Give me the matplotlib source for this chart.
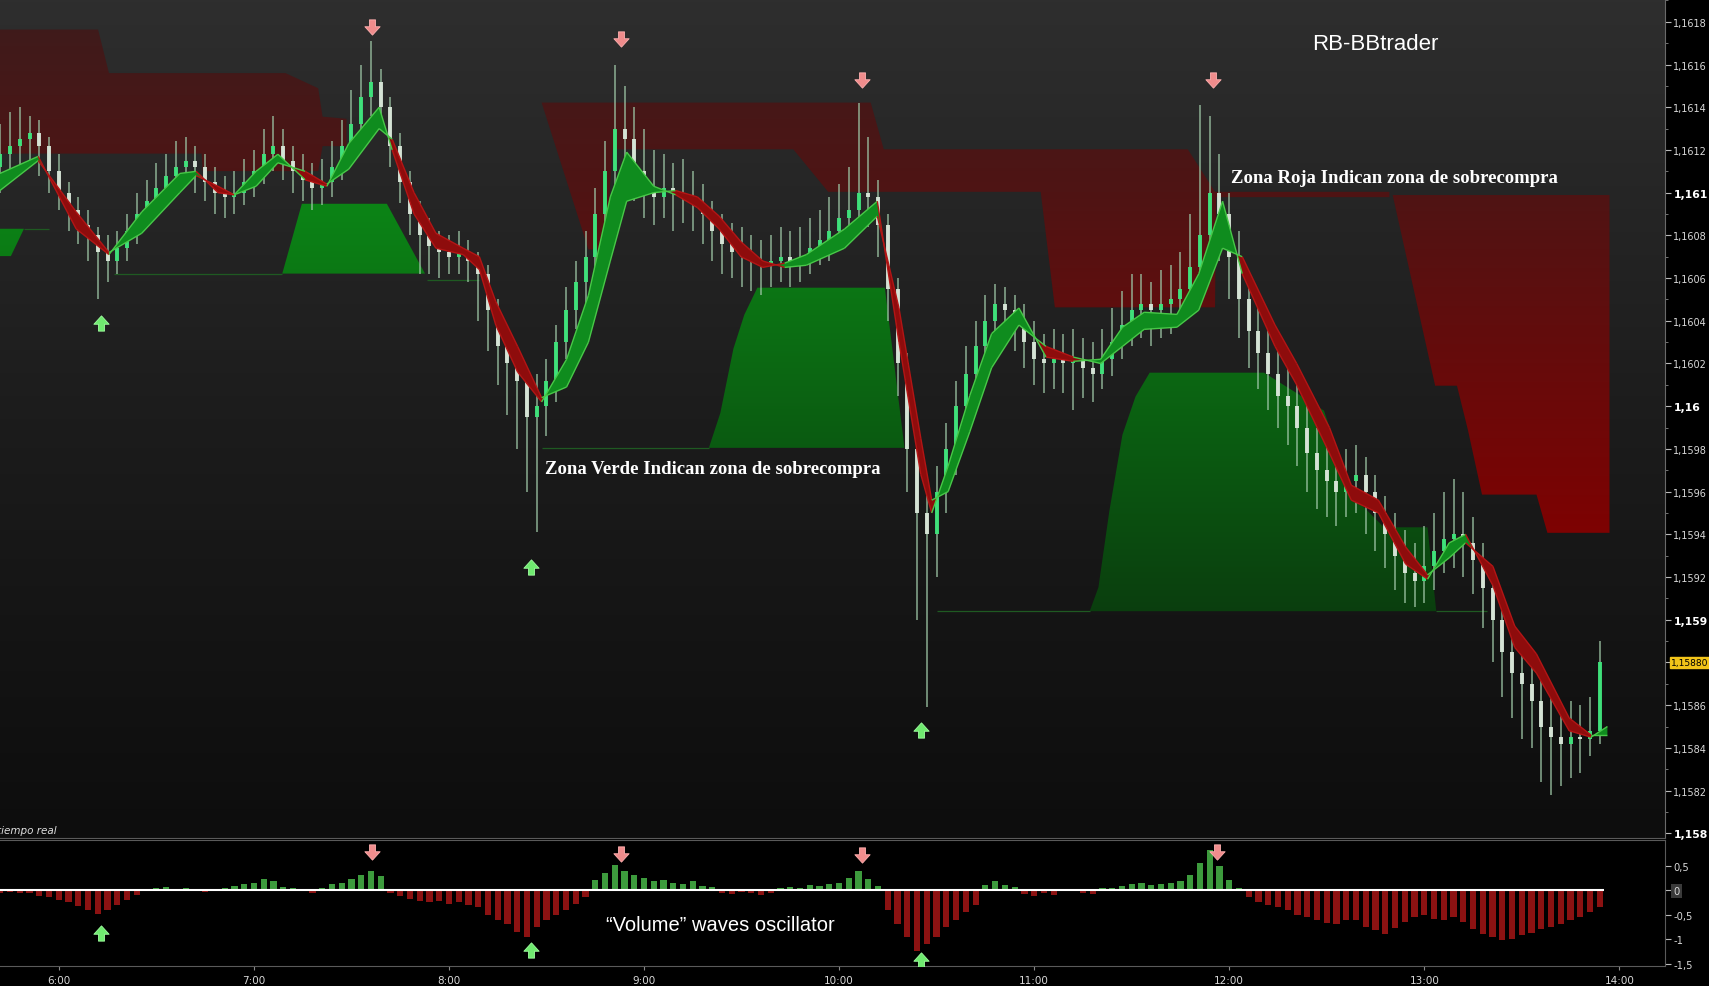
import numpy as np
import matplotlib
matplotlib.use("Agg")
import matplotlib.pyplot as plt
from matplotlib.patches import Polygon
from matplotlib.path import Path
from matplotlib.colors import LinearSegmentedColormap
from matplotlib.collections import LineCollection
import matplotlib.transforms as mtransforms

plt.rcParams['font.family'] = ['DejaVu Sans']

# ---------------- data ----------------
BASE = 1.1580          # prices are stored as offsets in units of 0.00001
UNIT = 1e-5
bar_start = 5.70       # first bar time (hours)
bar_step = 0.05        # 3-minute bars

bar_open = [312,318,322,325,328,322,310,300,292,285, 280,272,268,274,282,290,296,302,308,312,
            315,312,305,300,298,300,305,310,318,322, 315,310,306,302,305,312,322,332,345,352,
            340,322,305,290,280,275,272,270,272,268, 262,245,228,220,212,195,200,212,230,245,
            258,270,290,310,330,325,310,300,298,302, 300,298,295,290,282,276,272,270,268,266,
            268,270,268,270,274,278,282,288,292,300, 298,285,255,220,180,150,140,160,180,200,
            215,228,240,248,245,240,230,222,220,222, 220,222,218,215,222,230,238,245,248,245,
            248,250,255,265,280,300,290,270,250,235, 225,215,205,200,190,178,170,165,160,165,
            168,160,150,140,130,122,118,125,132,138, 140,136,128,115,100,85,75,70,62,50,
            45,42,45,44,48]
bar_close = [318,322,325,328,322,310,300,292,285,280, 272,268,274,282,290,296,302,308,312,315,
             312,305,300,298,300,305,310,318,322,315, 310,306,302,305,312,322,332,345,352,340,
             322,305,290,280,275,272,270,272,268,262, 245,228,220,212,195,200,212,230,245,258,
             270,290,310,330,325,310,300,298,302,300, 298,295,290,282,276,272,270,268,266,268,
             270,268,270,274,278,282,288,292,300,298, 285,255,220,180,150,140,160,180,200,215,
             228,240,248,245,240,230,222,220,222,220, 222,218,215,222,230,238,245,248,245,248,
             250,255,265,280,300,290,270,250,235,225, 215,205,200,190,178,170,165,160,165,168,
             160,150,140,130,122,118,125,132,138,140, 136,128,115,100,85,75,70,62,50,45,
             42,45,44,48,80]
bar_high = [332,338,340,336,334,326,318,305,298,292, 284,280,282,290,300,306,314,318,324,326,
            322,318,312,308,310,316,320,330,336,330, 322,318,314,316,324,334,348,360,371,358,
            345,328,310,296,288,282,280,282,278,272, 266,250,235,226,218,215,222,238,256,268,
            282,302,324,360,350,340,330,320,318,314, 316,310,304,296,290,286,284,280,278,280,
            284,282,284,288,292,298,304,312,342,326, 306,290,260,225,185,165,172,192,212,228,
            240,252,257,256,252,248,240,234,236,234, 236,232,230,236,246,254,262,262,258,264,
            266,272,290,341,336,318,300,282,262,246, 238,228,218,212,200,190,184,178,180,182,
            176,168,158,150,142,136,144,150,160,166, 160,148,136,120,106,96,90,86,72,64,
            60,62,60,64,90]
bar_low = [300,306,310,312,308,300,292,282,276,268, 250,258,262,268,276,284,290,296,300,304,
           300,296,290,288,290,294,298,304,310,306, 300,296,292,294,298,306,316,326,336,330,
           312,295,280,262,262,260,262,262,258,240, 226,210,196,180,160,141,186,202,222,236,
           248,262,284,300,305,296,288,285,288,282, 286,282,276,268,262,260,256,254,252,256,
           258,256,258,262,266,268,274,278,284,284, 270,240,205,160,100,59,120,150,168,190,
           205,218,228,230,226,218,210,206,208,206, 198,204,202,208,214,222,228,232,228,232,
           234,238,245,258,272,268,250,232,218,208, 198,190,182,172,160,152,148,144,148,150,
           140,132,124,114,108,106,108,114,122,124, 120,112,96,80,64,54,44,40,24,18,
           22,26,28,36,42]

osc_vals = [-0.05,-0.04,-0.06,-0.05,-0.12,-0.15,-0.20,-0.25,-0.32,-0.40,
            -0.48,-0.40,-0.30,-0.20,-0.10,-0.02,0.04,0.06,0.03,0.05,
            -0.02,-0.03,0.02,0.05,0.08,0.12,0.15,0.22,0.18,0.06,
            0.04,0.02,-0.05,0.05,0.12,0.15,0.22,0.30,0.40,0.28,
            -0.05,-0.12,-0.18,-0.22,-0.25,-0.22,-0.28,-0.25,-0.30,-0.35,
            -0.50,-0.62,-0.70,-0.85,-0.95,-0.75,-0.60,-0.50,-0.40,-0.28,
            -0.15,0.20,0.35,0.52,0.40,0.30,0.25,0.18,0.20,0.15,
            0.12,0.18,0.08,0.06,-0.05,-0.08,-0.04,-0.06,-0.10,-0.06,
            0.04,0.06,0.05,0.10,0.08,0.12,0.15,0.25,0.40,0.22,
            0.08,-0.40,-0.70,-0.95,-1.25,-1.10,-0.95,-0.75,-0.60,-0.45,
            -0.30,0.10,0.18,0.10,0.06,-0.08,-0.12,-0.06,-0.10,0.02,
            0.03,-0.05,-0.08,0.04,0.05,0.08,0.12,0.15,0.10,0.12,
            0.15,0.18,0.30,0.55,0.82,0.50,0.20,0.05,-0.15,-0.25,
            -0.30,-0.35,-0.40,-0.50,-0.55,-0.62,-0.68,-0.70,-0.62,-0.60,
            -0.75,-0.82,-0.90,-0.78,-0.65,-0.55,-0.50,-0.58,-0.62,-0.55,
            -0.65,-0.80,-0.90,-0.95,-1.02,-1.00,-0.92,-0.88,-0.80,-0.75,
            -0.70,-0.62,-0.55,-0.45,-0.35]

rib_t = [5.698,5.894,6.089,6.257,6.425,6.620,6.704,6.816,6.899,7.011,7.123,7.263,7.374,7.486,
         7.642,7.709,7.821,7.933,8.073,8.156,8.240,8.352,8.475,8.603,8.715,8.827,8.911,9.050,
         9.162,9.274,9.385,9.497,9.609,9.721,9.832,10.028,10.196,10.307,10.419,10.475,10.559,
         10.670,10.782,10.922,11.061,11.201,11.341,11.453,11.564,11.732,11.844,11.966,12.067,
         12.235,12.346,12.514,12.626,12.765,12.905,13.017,13.128,13.212,13.352,13.464,13.575,
         13.743,13.855,13.939]
rib_fast = [309,317,283,271,291,309,310,300,299,310,318,306,303,323,340,320,290,274,271,264,
            238,216,202,222,252,298,319,303,299,293,283,270,265,267,271,283,296,230,168,150,
            172,205,234,246,223,221,222,237,244,243,262,296,262,228,210,178,156,150,126,119,
            136,140,116,87,75,48,45,50]
rib_slow = [301,315,291,272,281,300,308,303,299,303,314,310,304,311,330,325,300,281,274,270,
            249,228,204,209,230,268,296,300,301,298,289,277,268,265,266,274,289,246,185,156,
            160,188,218,238,228,223,220,228,236,237,245,274,270,238,220,190,163,156,134,121,
            129,136,125,97,84,54,46,46]

# overbought (red) zones: polygon outlines (hours, price offset)
redA_t = [5.6983,6.2011,6.2570,7.1620,7.3296,7.3520,7.4749,7.4749,7.3520,7.3296,6.7374,6.7318,5.6983]
redA_v = [376.4,376.4,356.0,356.0,348.9,335.6,334.6,321.8,321.8,310.1,310.1,318.3,318.3]
redB_t = [8.4749,10.1620,10.2291,11.7877,11.9274,12.8212,12.8212,11.9330,11.9274,11.1061,
          11.0335,9.9441,9.7654,8.8380,8.8045,8.7151]
redB_v = [342.2,342.2,320.3,320.3,300.4,300.4,297.9,297.9,246.3,246.3,300.4,300.4,320.3,
          320.3,273.4,273.4]
redC_t = [12.8380,13.9497,13.9497,13.6313,13.5754,13.2961,13.2235,13.1676,13.0559]
redC_v = [298.9,298.9,140.7,140.7,158.6,158.6,189.0,209.6,209.6]

# oversold (green) zones
grnA_t = [5.6983,5.8212,5.7542,5.6983]
grnA_v = [283.1,283.1,270.3,270.3]
grnB_t = [7.1453,7.2458,7.6816,7.8771]
grnB_v = [262.1,294.8,294.8,262.1]
grnC_t = [9.3324,9.3911,9.4581,9.5140,9.5810,10.2346,10.3352]
grnC_v = [180.5,196.8,226.9,242.8,255.5,255.5,180.5]
grnD_t = [11.2849,11.3296,11.3855,11.4525,11.5196,11.5922,12.1788,12.3743,12.4860,12.6257,
          12.7933,13.0168,13.0615]
grnD_v = [104.0,115.2,150.9,186.6,204.5,215.7,215.7,204.5,197.9,158.6,143.3,143.3,104.0]

base_t0 = [5.8212,6.2849,7.8883,8.4749,10.5028,13.0615]
base_t1 = [5.9497,7.1453,8.1564,9.3324,11.2849,13.3240]
base_v = [283.1,262.1,259.1,180.5,104.0,104.0]

sig_dn_t = [7.603,8.883,10.117,11.916]
sig_dn_v = [377.4,371.8,353.0,353.0]
sig_up_t = [6.218,8.419,10.419]
sig_up_v = [239.2,124.9,48.4]
osc_dn_t = [7.603,8.883,10.117,11.939]
osc_dn_v = [0.78,0.73,0.71,0.78]
osc_up_t = [6.218,8.419,10.419]
osc_up_v = [-0.87,-1.22,-1.42]

price_ticks = [1.1582,1.1584,1.1586,1.1588,1.1590,1.1592,1.1594,1.1596,1.1598,1.1600,
               1.1602,1.1604,1.1606,1.1608,1.1610,1.1612,1.1614,1.1616,1.1618,1.1580]
price_labels = ['1,1582','1,1584','1,1586','','1,159','1,1592','1,1594','1,1596','1,1598','1,16',
                '1,1602','1,1604','1,1606','1,1608','1,161','1,1612','1,1614','1,1616','1,1618','1,158']
bold_labels = {'1,158', '1,159', '1,16', '1,161'}
last_price_label = '1,15880'
last_price = 1.15880
osc_ticks = [0.5, 0, -0.5, -1, -1.5]
osc_labels = ['0,5', '0', '-0,5', '-1', '-1,5']
time_ticks = [6, 7, 8, 9, 10, 11, 12, 13, 14]
time_labels = ['6:00', '7:00', '8:00', '9:00', '10:00', '11:00', '12:00', '13:00', '14:00']

# ---------------- layout ----------------
XMIN, XMAX = 5.6983, 14.2346
YMIN, YMAX = 1.157979, 1.161907
OMIN, OMAX = -1.556, 1.022

fig = plt.figure(figsize=(17.09, 9.87), dpi=100, facecolor='black')
ax = fig.add_axes([0.0, 0.1502, 0.9743, 0.8498])
ox = fig.add_axes([0.0, 0.0199, 0.9743, 0.1280])

def P(v):
    return BASE + np.asarray(v, dtype=float) * UNIT

# background gradient
bg = LinearSegmentedColormap.from_list('bg', ['#0d0d0d', '#1c1c1c', '#2e2e2e'])
ax.imshow(np.linspace(0, 1, 256).reshape(-1, 1), extent=[XMIN, XMAX, YMIN, YMAX],
          origin='lower', cmap=bg, aspect='auto', zorder=0)

red_cmap = LinearSegmentedColormap.from_list('red', [(0.0, '#7e0202'), (0.667, '#4f1414'), (1.0, '#3f1b1b')])
grn_cmap = LinearSegmentedColormap.from_list('grn', ['#0a3d0e', '#0c8616'])

def grad_fill(ts, vs, cmap, v_lo, v_hi, z=1):
    poly = Polygon(np.column_stack([ts, P(vs)]), closed=True, fc='none', ec='none')
    ax.add_patch(poly)
    im = ax.imshow(np.linspace(0, 1, 256).reshape(-1, 1),
                   extent=[XMIN, XMAX, P(v_lo), P(v_hi)], origin='lower',
                   cmap=cmap, aspect='auto', zorder=z, interpolation='bilinear')
    im.set_clip_path(poly)

for ts, vs in [(redA_t, redA_v), (redB_t, redB_v), (redC_t, redC_v)]:
    grad_fill(ts, vs, red_cmap, 140, 380)
for ts, vs in [(grnA_t, grnA_v), (grnB_t, grnB_v), (grnC_t, grnC_v), (grnD_t, grnD_v)]:
    grad_fill(ts, vs, grn_cmap, 100, 300)

ax.hlines(P(base_v), base_t0, base_t1, colors='#1f5a22', lw=0.9, zorder=2)

# price bars
n = len(bar_close)
bt = bar_start + bar_step * np.arange(n)
op = np.array(bar_open); cl = np.array(bar_close)
hi = np.array(bar_high); lo = np.array(bar_low)
ax.vlines(bt, P(lo), P(hi), colors='#9cc4a4', lw=1.2, alpha=0.8, zorder=3)
body_col = np.where(cl >= op, '#3fe07a', '#d5e3d5')
ax.vlines(bt, P(np.minimum(op, cl)), P(np.maximum(op, cl)), colors=body_col, lw=2.8, zorder=3)

# ribbon
rt = np.array(rib_t); rf = P(rib_fast); rs = P(rib_slow)
ax.fill_between(rt, rf, rs, where=rf >= rs, interpolate=True, color='#0f8c1e', lw=0, zorder=4)
ax.fill_between(rt, rf, rs, where=rf <= rs, interpolate=True, color='#8e0c0c', lw=0, zorder=4)
dif = np.array(rib_fast) - np.array(rib_slow)
for line in (rf, rs):
    segs = [[(rt[k], line[k]), (rt[k + 1], line[k + 1])] for k in range(len(rt) - 1)]
    cols = ['#48c848' if dif[k] + dif[k + 1] >= 0 else '#b31515' for k in range(len(rt) - 1)]
    ax.add_collection(LineCollection(segs, colors=cols, lw=1.0, zorder=5))

# signal arrows
dn = Path([(-0.2, 0.5), (0.2, 0.5), (0.2, 0.05), (0.5, 0.05), (0, -0.5), (-0.5, 0.05), (-0.2, 0.05), (-0.2, 0.5)],
          [Path.MOVETO] + [Path.LINETO] * 6 + [Path.CLOSEPOLY])
up = Path([(x, -y) for x, y in dn.vertices], dn.codes)
ax.plot(sig_dn_t, P(sig_dn_v), ls='none', marker=dn, ms=11, mfc='#f08c8c', mec='#ffb0b0', mew=0.6, zorder=6)
ax.plot(sig_up_t, P(sig_up_v), ls='none', marker=up, ms=11, mfc='#6fea6f', mec='#a0ffa0', mew=0.6, zorder=6)

# texts
ax.text(12.749, 1.161698, 'RB-BBtrader', color='white', fontsize=16, family='Liberation Sans',
        ha='center', va='center', zorder=7)
ax.text(12.011, 1.16107, 'Zona Roja Indican zona de sobrecompra', color='white', fontsize=13.5,
        family='Liberation Serif', weight='bold', ha='left', va='center', zorder=7)
ax.text(8.4916, 1.159708, 'Zona Verde Indican zona de sobrecompra', color='white', fontsize=13.5,
        family='Liberation Serif', weight='bold', ha='left', va='center', zorder=7)
ax.text(-0.002, 0.009, 'tiempo real', transform=ax.transAxes, color='#dddddd', fontsize=7.5,
        style='italic', ha='left', va='center', zorder=7)

ax.set_xlim(XMIN, XMAX)
ax.set_ylim(YMIN, YMAX)
ax.set_xticks([])
ax.yaxis.tick_right()
ax.set_yticks(price_ticks)
ax.set_yticklabels(price_labels)
ax.set_yticks(np.arange(1.1581, 1.1619, 0.0002), minor=True)
ax.tick_params(axis='y', which='major', colors='#bbbbbb', labelcolor='#d8d8d8', labelsize=7.0,
               length=4, width=0.8, pad=2)
ax.tick_params(axis='y', which='minor', colors='#888888', length=2.5, width=0.6)
for lbl in ax.get_yticklabels():
    if lbl.get_text() in bold_labels:
        lbl.set_fontweight('bold')
        lbl.set_fontsize(7.8)
        lbl.set_color('white')
for s in ['top', 'left']:
    ax.spines[s].set_visible(False)
ax.spines['right'].set_color('#6a6a6a')
ax.spines['bottom'].set_color('#5a5a5a')

tr = mtransforms.blended_transform_factory(ax.transAxes, ax.transData)
ax.text(1.0035, last_price, last_price_label, transform=tr, color='black', fontsize=6.6,
        ha='left', va='center', zorder=8,
        bbox=dict(boxstyle='square,pad=0.15', fc='#f2c419', ec='#f2c419'))

# oscillator panel
ox.set_facecolor('#000000')
ov = np.array(osc_vals)
ox.bar(bt, ov, width=0.032, color=np.where(ov >= 0, '#3d9b3d', '#8c1212'), lw=0, zorder=2)
ox.hlines(0, XMIN, bt[-1] + 0.02, colors='white', lw=1.5, zorder=3)
ox.plot(osc_dn_t, osc_dn_v, ls='none', marker=dn, ms=11, mfc='#f08c8c', mec='#ffb0b0', mew=0.6, zorder=6)
ox.plot(osc_up_t, osc_up_v, ls='none', marker=up, ms=11, mfc='#6fea6f', mec='#a0ffa0', mew=0.6, zorder=6)
ox.text(8.8045, -0.711, '\u201cVolume\u201d waves oscillator', color='white', fontsize=14.5,
        family='Liberation Sans', ha='left', va='center', zorder=7)
ox.set_xlim(XMIN, XMAX)
ox.set_ylim(OMIN, OMAX)
ox.yaxis.tick_right()
ox.set_yticks(osc_ticks)
ox.set_yticklabels(osc_labels)
ox.set_xticks(time_ticks)
ox.set_xticklabels(time_labels)
ox.tick_params(axis='y', colors='#bbbbbb', labelcolor='#d8d8d8', labelsize=7.2, length=4, pad=2)
ox.tick_params(axis='x', colors='#888888', labelcolor='#d8d8d8', labelsize=7.5, length=3, pad=3)
for lbl in ox.get_yticklabels():
    if lbl.get_text() == '0':
        lbl.set_bbox(dict(boxstyle='square,pad=0.2', fc='#3a3a3a', ec='none'))
ox.spines['left'].set_visible(False)
for s in ['top', 'right', 'bottom']:
    ox.spines[s].set_color('#5a5a5a')

fig.savefig('out.png', dpi=100, facecolor='black')
